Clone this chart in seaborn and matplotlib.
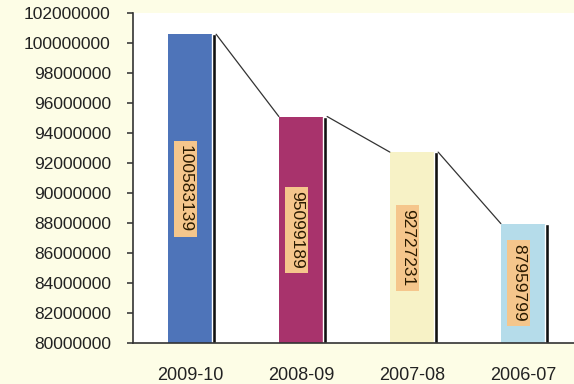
import matplotlib
matplotlib.use("Agg")
import matplotlib.pyplot as plt
import seaborn as sns
import pandas as pd
from matplotlib.ticker import FixedLocator

categories = ["2009-10", "2008-09", "2007-08", "2006-07"]
values = [100583139, 95099189, 92727231, 87959799]
bar_colors = ["#4e74b9", "#a8336c", "#f7f2c6", "#b5dcea"]
yticks = list(range(80000000, 102000001, 2000000))

sns.set_theme(style="white")
plt.rcParams['font.family'] = ['Liberation Sans', 'DejaVu Sans']

fig = plt.figure(figsize=(5.74, 3.84), dpi=100)
fig.patch.set_facecolor("#fdfde6")
ax = fig.add_axes([133/574, 41/384, 441/574, 330/384])
ax.set_facecolor("white")

df = pd.DataFrame({"cat": categories, "val": values})
sns.barplot(data=df, x="cat", y="val", hue="cat", palette=bar_colors,
            width=0.40, legend=False, ax=ax, saturation=1, edgecolor="none")

ymin = yticks[0]
# shadows
for i, v in enumerate(values):
    ax.bar(i + 0.2175, v - ymin, bottom=ymin, width=0.035, color="#111111", zorder=2)
# connector lines
for i in range(len(values) - 1):
    ax.plot([i + 0.235, i + 1 - 0.2], [values[i], values[i + 1]],
            color="#333333", lw=0.9, zorder=3)
# value labels
for i, v in enumerate(values):
    ax.text(i - 0.04, (ymin + v) / 2, str(v), rotation=270, ha="center", va="center",
            fontsize=12.5, color="#2a1a00", zorder=4,
            bbox=dict(boxstyle="square,pad=0.25", fc="#f5c68c", ec="none"))

ax.set_ylim(yticks[0], yticks[-1])
ax.set_xlim(-0.514, 3.459)
ax.set_yticks(yticks)
ax.set_yticklabels([str(t) for t in yticks], fontsize=12.5, color="#222222")
ax.set_xticks(range(len(categories)))
ax.set_xticklabels(categories, fontsize=13, color="#222222")
ax.xaxis.set_minor_locator(FixedLocator([0.5, 1.5, 2.5]))
ax.tick_params(axis="x", which="major", length=0, pad=17)
ax.tick_params(axis="x", which="minor", length=3, direction="out", color="#555555")
ax.tick_params(axis="y", length=4, direction="out", color="#444444", left=True, pad=12)
ax.set_xlabel("")
ax.set_ylabel("")
for s in ["top", "right"]:
    ax.spines[s].set_visible(False)
ax.spines["left"].set_color("#333333")
ax.spines["bottom"].set_color("#333333")
ax.spines["left"].set_linewidth(1.2)
ax.spines["bottom"].set_linewidth(1.2)

fig.savefig("out.png", dpi=100, facecolor=fig.get_facecolor())
